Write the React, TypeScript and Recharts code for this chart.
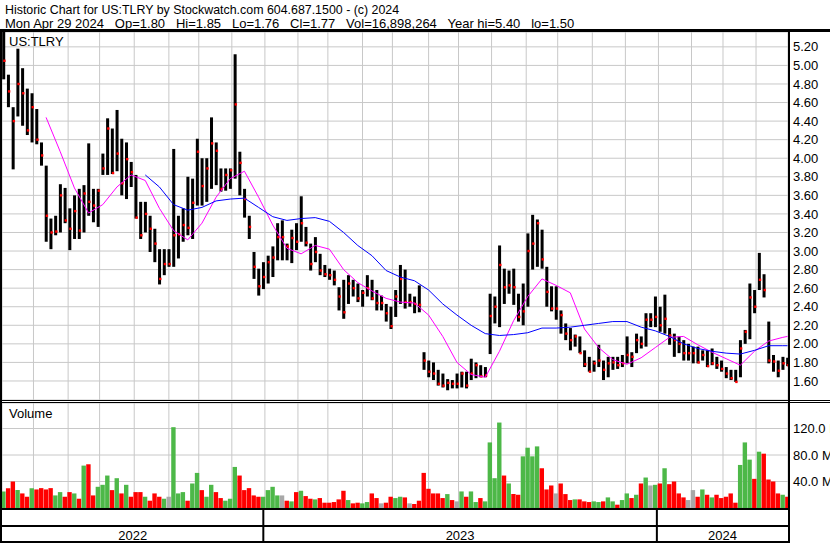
import React from 'react';
import {
  ComposedChart, Bar, Line, XAxis, YAxis, CartesianGrid, Cell,
  ReferenceLine, ReferenceArea,
} from 'recharts';

if (typeof document !== 'undefined') {
  document.body.style.margin = '0';
}

const FONT = '"Liberation Sans", Arial, sans-serif';

// ---- data (one entry per 3 trading days) ----
const DAYS_PER_BAR = 3;

const highs = [5.40,4.90,4.55,5.18,4.97,4.75,4.70,4.53,4.17,3.92,
3.35,3.38,3.72,3.68,3.46,3.60,3.67,3.71,4.16,3.67,
3.67,4.05,4.43,4.32,4.52,4.21,4.17,3.96,3.82,3.53,
3.53,3.38,3.24,3.02,3.02,3.02,4.10,3.38,3.46,3.80,
3.78,4.21,4.00,4.00,4.44,4.17,3.89,3.89,3.89,5.12,
4.07,3.67,3.38,2.99,2.81,2.88,2.95,3.05,3.30,3.33,
3.08,3.23,3.30,3.59,3.26,3.08,3.15,2.97,2.85,2.81,
2.79,2.61,2.69,2.74,2.69,2.65,2.58,2.74,2.69,2.58,
2.52,2.43,2.40,2.58,2.85,2.80,2.54,2.51,2.63,1.91,
1.82,1.80,1.72,1.68,1.62,1.61,1.68,1.70,1.70,1.84,
1.80,1.77,1.75,2.54,2.51,3.06,2.81,2.79,2.81,2.54,
2.65,3.19,3.39,3.34,3.23,2.83,2.62,2.62,2.36,2.22,
2.17,2.10,2.08,1.93,1.86,1.82,1.99,1.82,1.86,1.86,
1.86,1.88,2.08,1.91,2.11,2.08,2.33,2.33,2.51,2.40,
2.53,2.17,2.11,2.08,2.04,2.00,1.97,1.97,1.93,1.93,
1.95,1.86,1.82,1.75,1.72,1.72,2.04,2.15,2.65,2.58,
2.98,2.75,2.24,1.88,1.82,1.86,1.85];

const lows = [4.85,4.55,3.88,4.45,4.35,4.25,4.17,4.15,3.92,3.10,
3.02,3.17,3.20,3.30,3.01,3.13,3.13,3.20,3.38,3.31,
3.26,3.82,3.82,3.83,3.86,3.60,3.56,3.69,3.35,3.13,
3.20,2.99,2.88,2.64,2.74,2.83,2.83,2.92,3.10,3.17,
3.13,3.49,3.49,3.53,3.67,3.71,3.64,3.65,3.67,3.78,
3.60,3.36,3.13,2.70,2.52,2.59,2.65,2.72,2.90,2.90,
2.90,2.87,3.01,3.10,3.05,2.79,2.88,2.74,2.72,2.69,
2.63,2.36,2.27,2.43,2.51,2.45,2.40,2.51,2.47,2.36,
2.36,2.24,2.16,2.29,2.43,2.38,2.40,2.33,2.34,1.72,
1.64,1.61,1.55,1.53,1.50,1.52,1.52,1.53,1.52,1.61,
1.63,1.64,1.64,1.89,2.22,2.18,2.43,2.54,2.42,2.24,
2.20,2.40,2.80,2.83,2.81,2.40,2.35,2.26,2.11,2.04,
1.93,1.97,1.90,1.75,1.70,1.70,1.75,1.61,1.64,1.72,
1.73,1.75,1.79,1.75,1.90,1.95,1.97,2.18,2.18,2.13,
2.11,1.99,1.86,1.90,1.82,1.82,1.79,1.79,1.82,1.75,
1.77,1.73,1.70,1.63,1.61,1.59,1.64,2.00,2.05,2.33,
2.58,2.50,1.79,1.70,1.64,1.72,1.76];

const closes = [5.05,4.72,4.40,4.80,4.70,4.30,4.55,4.20,4.03,3.38,
3.20,3.21,3.60,3.33,3.24,3.43,3.22,3.62,3.53,3.49,
3.65,3.89,4.32,3.84,4.05,3.73,3.99,3.85,3.36,3.17,
3.40,3.24,3.08,2.70,2.86,2.86,3.17,3.18,3.28,3.25,
3.52,4.07,3.70,3.89,4.16,4.08,3.67,3.82,3.87,4.58,
3.95,3.56,3.26,2.83,2.62,2.72,2.88,2.93,3.15,3.15,
3.05,3.14,3.10,3.30,3.09,2.86,2.99,2.79,2.75,2.74,
2.69,2.51,2.34,2.65,2.60,2.49,2.55,2.60,2.49,2.44,
2.44,2.33,2.19,2.51,2.70,2.45,2.45,2.43,2.42,1.82,
1.70,1.68,1.57,1.55,1.58,1.57,1.57,1.68,1.55,1.68,
1.77,1.65,1.66,2.30,2.40,2.85,2.61,2.63,2.61,2.29,
2.35,3.00,3.08,3.30,2.91,2.56,2.38,2.38,2.31,2.11,
2.04,2.08,1.90,1.78,1.70,1.79,1.82,1.72,1.79,1.80,
1.77,1.79,1.88,1.86,2.04,2.00,2.26,2.26,2.29,2.20,
2.27,2.09,2.04,2.00,1.90,1.90,1.90,1.80,1.88,1.76,
1.79,1.77,1.73,1.68,1.63,1.59,1.95,2.13,2.50,2.40,
2.69,2.58,1.82,1.81,1.71,1.79,1.77];

// millions of shares
const volumes = [25,30,40,27,22,17,30,28,30,28,
30,19,24,17,24,22,14,64,66,19,
32,35,49,27,45,22,35,17,24,24,
17,11,22,17,14,17,122,22,24,11,
37,53,27,17,35,24,15,11,14,62,
49,27,30,19,17,17,27,32,19,19,
11,10,24,26,18,14,13,15,8,8,
9,13,26,12,7,8,7,9,22,15,
7,8,17,15,17,16,7,6,11,53,
29,22,22,15,21,12,10,25,17,25,
9,15,10,99,45,129,49,37,21,20,
78,91,78,93,60,28,34,22,37,21,
12,13,13,10,9,10,9,10,16,10,
5,12,22,15,20,37,46,34,35,37,
60,36,40,22,16,12,27,17,28,20,
16,20,15,17,22,8,65,99,73,44,
85,82,43,40,22,20,17];

// moving averages read every 3rd entry
const PINK_START = 9;
const pinkMA = [4.44,4.07,3.68,3.41,3.50,3.69,3.82,3.76,3.46,3.22,
3.12,3.30,3.58,3.78,3.86,3.58,3.28,3.03,2.97,3.06,
3.02,2.80,2.66,2.57,2.49,2.45,2.44,2.31,2.08,1.80,
1.67,1.64,1.92,2.25,2.51,2.70,2.63,2.55,2.16,1.96,
1.83,1.78,1.85,1.96,2.07,2.08,1.99,1.91,1.84,1.77,
1.92,2.03,2.07,2.08];

const BLUE_START = 30;
const blueMA = [3.82,3.69,3.50,3.44,3.47,3.54,3.56,3.57,3.47,3.37,
3.33,3.35,3.36,3.32,3.20,3.06,2.95,2.79,2.72,2.68,
2.58,2.43,2.31,2.20,2.11,2.09,2.10,2.12,2.17,2.17,
2.18,2.20,2.22,2.24,2.24,2.18,2.14,2.08,2.00,1.95,
1.92,1.90,1.89,1.93,1.98,1.98,1.98];

const monthStarts = [19,41,61,83,105,124,145,166,187,206,228,247,270,289,310,332,352,374,395,416,437,457,478];
const yearBounds = [165, 415];
const yearLabels = ['2022', '2023', '2024'];
const priceTicks = [1.6,1.8,2.0,2.2,2.4,2.6,2.8,3.0,3.2,3.4,3.6,3.8,4.0,4.2,4.4,4.6,4.8,5.0,5.2];
const volumeTicks = [40, 80, 120];

const X_DOMAIN: [number, number] = [-1, 498.3];

type Row = {
  day: number; hi: number; lo: number; close: number; range: [number, number];
  vol: number; dir: number; pink?: number; blue?: number;
};

const data: Row[] = highs.map((h, i) => ({
  day: i * DAYS_PER_BAR,
  hi: h,
  lo: lows[i],
  close: closes[i],
  range: [lows[i], h],
  vol: volumes[i],
  dir: i === 0 ? 1 : Math.sign(closes[i] - closes[i - 1]),
}));
pinkMA.forEach((v, k) => {
  const idx = Math.min(PINK_START + 3 * k, data.length - 1);
  data[idx].pink = v;
});
blueMA.forEach((v, k) => {
  const idx = Math.min(BLUE_START + 3 * k, data.length - 1);
  data[idx].blue = v;
});

const GREEN = '#4db848';
const RED = '#ff0000';
const GREY = '#a8a8a8';
const GRID = '#c8c8c8';

const PriceBar = (props: any) => {
  const { x, y, width, height, payload } = props;
  if (x == null || y == null || !payload) return null;
  const top = Math.min(y, y + height);
  const bot = Math.max(y, y + height);
  const h = Math.max(bot - top, 1);
  const span = payload.hi - payload.lo;
  const cy = span > 0 ? top + ((payload.hi - payload.close) / span) * (bot - top) : top;
  return (
    <g>
      <rect x={x} y={top} width={width} height={h} fill="#000" />
      <rect x={x + width - 2} y={cy - 1.2} width={2.4} height={2.4} fill={RED} />
    </g>
  );
};

const tickStyle = { fontSize: 13, fill: '#000', fontFamily: FONT };

const VolTick = (props: any) => {
  const { x, y, payload } = props;
  return (
    <text x={x} y={y} dy="0.355em" fontSize={13} fontFamily={FONT} fill="#000" textAnchor="start">
      {`${Number(payload.value).toFixed(1)} M`}
    </text>
  );
};

export default function App() {
  const yearEdges = [X_DOMAIN[0], ...yearBounds, X_DOMAIN[1]];
  return (
    <div style={{ position: 'relative', width: 830, height: 543, background: '#fff', overflow: 'hidden', fontFamily: FONT }}>
      {/* price panel */}
      <div style={{ position: 'absolute', left: 0, top: 0 }}>
        <ComposedChart width={830} height={401} data={data} margin={{ top: 32, right: 0, bottom: 1, left: 2 }}>
          <CartesianGrid stroke={GRID} strokeWidth={1} />
          <XAxis dataKey="day" type="number" domain={X_DOMAIN} ticks={monthStarts} hide allowDataOverflow />
          <YAxis
            orientation="right" width={42} domain={[1.395, 5.36]} ticks={priceTicks} interval={0}
            allowDataOverflow tickLine={false} axisLine={false} tickSize={0} tickMargin={5}
            tick={tickStyle} tickFormatter={(v: number) => v.toFixed(2)}
          />
          <Bar dataKey="range" barSize={3} shape={PriceBar} isAnimationActive={false} />
          <Line dataKey="pink" stroke="#ff00ff" strokeWidth={1} dot={false} connectNulls isAnimationActive={false} />
          <Line dataKey="blue" stroke="#0000ff" strokeWidth={1} dot={false} connectNulls isAnimationActive={false} />
        </ComposedChart>
      </div>

      {/* volume panel */}
      <div style={{ position: 'absolute', left: 0, top: 403 }}>
        <ComposedChart width={830} height={105} data={data} margin={{ top: 0, right: 0, bottom: 0, left: 2 }}>
          <CartesianGrid stroke={GRID} strokeWidth={1} />
          <XAxis dataKey="day" type="number" domain={X_DOMAIN} ticks={monthStarts} hide allowDataOverflow />
          <YAxis
            orientation="right" width={42} domain={[0, 158.5]} ticks={volumeTicks} interval={0}
            allowDataOverflow tickLine={false} axisLine={false} tickSize={0} tickMargin={5}
            tick={VolTick}
          />
          <Bar dataKey="vol" barSize={4.4} isAnimationActive={false}>
            {data.map((d, i) => (
              <Cell key={i} fill={d.dir > 0 ? GREEN : d.dir < 0 ? RED : GREY} />
            ))}
          </Bar>
        </ComposedChart>
      </div>

      {/* year band */}
      <div style={{ position: 'absolute', left: 0, top: 510 }}>
        <ComposedChart width={830} height={31} data={data} margin={{ top: 0, right: 42, bottom: 0, left: 2 }}>
          <XAxis dataKey="day" type="number" domain={X_DOMAIN} hide allowDataOverflow />
          <YAxis hide domain={[0, 31]} allowDataOverflow />
          <Line dataKey={() => -10} stroke="none" dot={false} isAnimationActive={false} />
          {yearLabels.map((lab, k) => (
            <ReferenceArea
              key={lab} x1={yearEdges[k]} x2={yearEdges[k + 1]} y1={0} y2={15}
              fill="#fff" fillOpacity={0} stroke="none" ifOverflow="visible"
              label={{ value: lab, position: 'center', fill: '#000', fontSize: 13, fontFamily: FONT, dy: 2 }}
            />
          ))}
          {yearBounds.map((b) => (
            <ReferenceLine key={b} x={b} stroke="#000" strokeWidth={2} ifOverflow="visible" />
          ))}
        </ComposedChart>
      </div>

      {/* frame and captions */}
      <svg width={830} height={543} style={{ position: 'absolute', left: 0, top: 0, pointerEvents: 'none' }}>
        <rect x={0} y={29} width={830} height={3} fill="#000" />
        <rect x={0} y={29} width={2} height={514} fill="#000" />
        <rect x={788} y={29} width={2} height={514} fill="#000" />
        <rect x={0} y={400} width={830} height={1} fill="#000" />
        <rect x={0} y={402} width={830} height={1} fill="#000" />
        <rect x={0} y={508} width={790} height={2} fill="#000" />
        <rect x={0} y={525} width={790} height={2} fill="#000" />
        <rect x={0} y={541} width={790} height={2} fill="#000" />
        <text x={5} y={14} fontSize={12.4} fontFamily={FONT} fill="#000" style={{ whiteSpace: 'pre' }}>
          Historic Chart for US:TLRY by Stockwatch.com 604.687.1500 - (c) 2024
        </text>
        <text x={5} y={28} fontSize={13} fontFamily={FONT} fill="#000" style={{ whiteSpace: 'pre' }}>
          {'Mon Apr 29 2024   Op=1.80   Hi=1.85   Lo=1.76   Cl=1.77   Vol=16,898,264   Year hi=5.40   lo=1.50'}
        </text>
        <text x={9} y={46} fontSize={13} fontFamily={FONT} fill="#000">US:TLRY</text>
        <text x={9} y={418} fontSize={13} fontFamily={FONT} fill="#000">Volume</text>
      </svg>
    </div>
  );
}
